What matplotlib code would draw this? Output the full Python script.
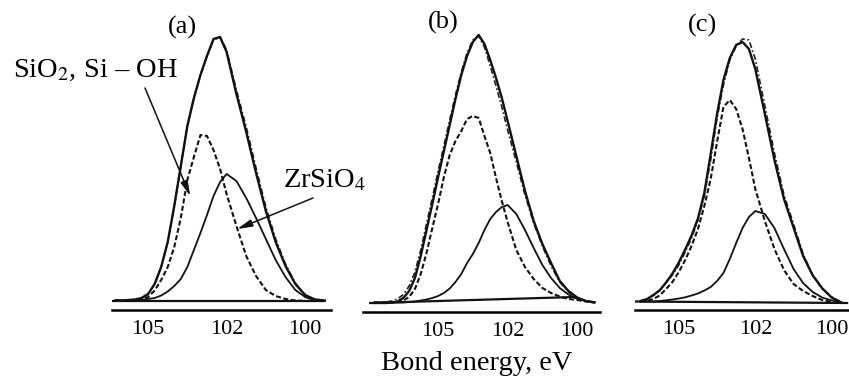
import numpy as np
import matplotlib
matplotlib.use('Agg')
import matplotlib.pyplot as plt

plt.rcParams['font.family'] = ['Liberation Serif', 'DejaVu Serif']
plt.rcParams['mathtext.fontset'] = 'stix'

# tick values shown on every panel (the original axis is not linear between them)
tick_vals = [105, 102, 100]
tick_labels = ['105', '102', '100']

# panel (a): Si 2p, intensity in arbitrary units
energy_a = np.arange(106.25, 99.49, -0.25)
main_a = [9.5, 9.5, 10, 10.5, 12, 16, 26, 43, 68, 104, 144, 184, 212, 235,
          254, 271, 273, 258, 216, 178, 137, 99, 68, 44, 26, 15, 10.5, 9.5]
fit_a = [9.5, 9.5, 10, 10.5, 12, 16, 26, 43, 68, 104, 144, 184, 212, 235,
         254, 270, 273, 260, 220, 183, 142, 103, 71, 46, 27, 15, 10.5, 9.5]
sio2_a = [9.5, 9.5, 9.5, 9.5, 10.5, 13, 19.5, 30, 43, 63, 92, 130, 153, 175,
          174, 160, 141, 116, 84, 54, 34, 20, 14, 11, 9.5, 9, 9, 9]
zr_a = [9.5, 9.5, 9.5, 9.5, 10, 11, 12, 14.5, 18.5, 24, 31, 43, 60, 77,
        95, 114, 128, 136, 129, 112, 92, 71, 50, 33, 20, 13, 9.5, 9]
base_e_a = [106.38, 99.55]
base_a = [9, 9]

# panel (b)
energy_b = np.arange(107.75, 99.49, -0.25)
main_b = [9, 9, 9, 9.5, 10.5, 14, 21, 34, 56, 82, 108, 135, 161, 187, 213, 237,
          256, 270, 277, 268, 252, 234, 214, 191, 156, 121, 91, 68, 49, 31, 21,
          14.5, 11, 9.5]
fit_b = [9, 9.5, 10, 11, 13, 17.5, 26, 40, 62, 88, 114, 141, 166, 192, 217, 240,
         259, 272, 276, 265, 246, 226, 205, 182, 150, 117, 89, 66, 46, 30, 20,
         14, 11, 10]
sio2_b = [9.5, 9.5, 9.5, 9.5, 10, 11.5, 15, 23, 38, 59, 84, 108, 135, 157, 171,
          181, 193, 196, 194, 176, 159, 134, 111, 90, 62, 45, 33, 24, 19, 15.5,
          13, 12, 10.5, 9.5]
zr_b = [9.5, 9.5, 9.5, 9.5, 9.5, 9.5, 10, 10.5, 11.5, 12.5, 14, 16, 19, 23.5,
        30, 38, 49, 58, 69, 82, 93, 100, 105, 107, 98, 82, 64, 47, 34, 24, 17.5,
        13, 11, 10]
base_e_b = [107.93, 100.06]
base_b = [9, 15]

# panel (c)
energy_c = np.arange(106.5, 99.74, -0.25)
main_c = [9, 10.8, 15, 19.6, 27.5, 36.5, 47.5, 60.5, 74.5, 91.5, 117, 156, 196,
          230, 252, 265, 268, 261, 241, 196, 150, 111, 82.5, 54, 34.7, 21.7,
          12.4, 7.6]
fit_c = [9, 11, 14.5, 20, 27.5, 35, 45, 58, 72, 90, 114, 150, 192, 225, 250,
         264, 271, 270, 251, 204, 157, 115, 86, 56, 35, 21, 13, 7.5]
sio2_c = [8.5, 9, 11, 14.5, 21, 28, 38, 50, 64, 81, 104, 131, 168, 203, 210,
          201, 181, 152, 121, 89, 61, 40, 26, 19, 14, 10, 8, 7]
zr_c = [8.5, 8.5, 8.5, 9, 9.7, 10.5, 11.5, 12.7, 14.5, 16.5, 19.5, 23, 29, 37,
        51, 67, 82, 93, 99, 96, 82, 61, 41, 27, 18, 12.5, 9.5, 7.5]
base_e_c = [106.72, 99.6]
base_c = [8.5, 7]


def forward(e):
    e = np.asarray(e, dtype=float)
    return np.where(e < 102, (e - 100) / 2, 1 + (e - 102) / 3)


def inverse(u):
    u = np.asarray(u, dtype=float)
    return np.where(u < 1, 100 + 2 * u, 102 + 3 * (u - 1))


panels = [
    dict(rect=[0.1319, 0.1777, 0.2580, 0.7958], xlim=(106.38, 99.34),
         e=energy_a, main=main_a, fit=fit_a, sio2=sio2_a, zr=zr_a,
         be=base_e_a, b=base_a),
    dict(rect=[0.4276, 0.1724, 0.2792, 0.7958], xlim=(108.24, 99.34),
         e=energy_b, main=main_b, fit=fit_b, sio2=sio2_b, zr=zr_b,
         be=base_e_b, b=base_b),
    dict(rect=[0.7479, 0.1777, 0.2521, 0.7958], xlim=(106.72, 99.55),
         e=energy_c, main=main_c, fit=fit_c, sio2=sio2_c, zr=zr_c,
         be=base_e_c, b=base_c),
]

fig = plt.figure(figsize=(8.49, 3.77), dpi=100)
axes = []
for p in panels:
    ax = fig.add_axes(p['rect'])
    ax.set_xscale('function', functions=(forward, inverse))
    ax.plot(p['e'], p['fit'], color='#222222', lw=1.2, dashes=(3.5, 1.5, 1, 1.5))
    ax.plot(p['e'], p['main'], color='#111111', lw=1.7)
    ax.plot(p['e'], p['sio2'], color='#111111', lw=1.5, dashes=(2.4, 1.2))
    ax.plot(p['e'], p['zr'], color='#111111', lw=1.3)
    ax.plot(p['be'], p['b'], color='#111111', lw=1.6)
    ax.set_xlim(*p['xlim'])
    ax.set_ylim(0, 300)
    ax.set_xticks(tick_vals, tick_labels)
    ax.set_yticks([])
    ax.tick_params(axis='x', length=0, pad=7, labelsize=16)
    for s in ['left', 'right', 'top']:
        ax.spines[s].set_visible(False)
    ax.spines['bottom'].set_linewidth(1.8)
    ax.patch.set_alpha(0)
    axes.append(ax)

for lab, x, y in [('(a)', 0.2144, 0.9284), ('(b)', 0.5218, 0.9416), ('(c)', 0.8280, 0.9337)]:
    fig.text(x, y, lab, ha='center', va='center', fontsize=19)

fig.text(0.0153, 0.7958, 'SiO$_2$, Si – OH', ha='left', va='baseline', fontsize=20.5)
fig.text(0.3333, 0.5040, 'ZrSiO$_4$', ha='left', va='baseline', fontsize=20.5)

arrow = dict(arrowstyle='-|>,head_length=0.9,head_width=0.22', color='#111111',
             lw=1.1, shrinkA=0, shrinkB=0)
axes[0].annotate('', xy=(103.39, 114), xycoords='data',
                 xytext=(0.1708, 0.7666), textcoords='figure fraction',
                 arrowprops=arrow, annotation_clip=False)
axes[0].annotate('', xy=(101.73, 81), xycoords='data',
                 xytext=(0.3687, 0.4748), textcoords='figure fraction',
                 arrowprops=arrow, annotation_clip=False)

fig.text(0.5612, 0.0186, 'Bond energy, eV', ha='center', va='baseline', fontsize=20.5)

fig.savefig('out.png', dpi=100)
